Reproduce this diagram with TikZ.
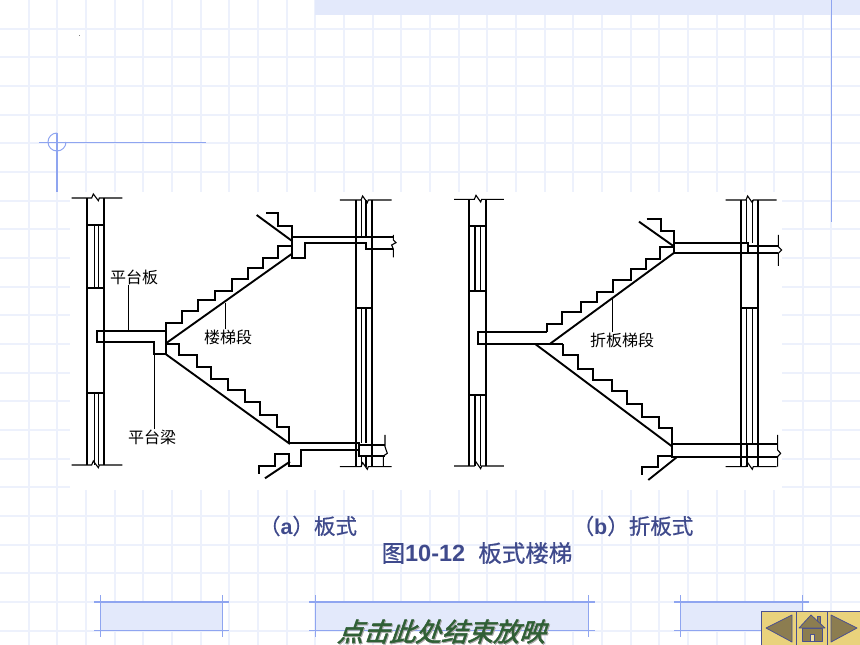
\documentclass[tikz,border=0pt]{standalone}
\usepackage{fontspec}
\setmainfont{Liberation Sans}
\newfontfamily\cjkfont{Noto Sans CJK SC}
\newfontfamily\cjkmedium[FakeBold=0.7]{Noto Sans CJK SC}
\newfontfamily\cjkslant[FakeSlant=0.35,FakeBold=2]{Noto Sans CJK SC}
\newfontfamily\latinbold[Ligatures=TeX]{Liberation Sans Bold}
\definecolor{gridblue}{HTML}{EDF1FC}
\definecolor{barblue}{HTML}{E3E9FB}
\definecolor{guideblue}{HTML}{8FA5F0}
\definecolor{captionblue}{HTML}{3F4A8C}
\definecolor{btngold}{HTML}{E9D27C}
\definecolor{btnolive}{HTML}{8C7D50}
\definecolor{btnedge}{HTML}{4A5090}
\definecolor{endgreen}{HTML}{2F5F35}
\tikzset{
	wall/.style={line width=1.9pt,line join=miter},
	inner/.style={line width=1.1pt},
	leader/.style={line width=1.1pt},
	partlabel/.style={font=\cjkfont\fontsize{16}{16}\selectfont,inner sep=0pt},
	caption/.style={font=\cjkmedium\fontsize{21.5}{22}\selectfont,text=captionblue,inner sep=0pt},
	btn/.style={fill=btngold,draw=btnedge,line width=1pt},
	btnsign/.style={fill=btnolive,draw=btnedge,line width=0.8pt,line join=round}
}
\begin{document}
\begin{tikzpicture}[x=1pt,y=-1pt]
	\useasboundingbox (0,0) rectangle (860,645);
	%Grid of the page
	\foreach \gx in {1,...,29} \draw[gridblue,line width=2pt] (28.667*\gx,0) -- (28.667*\gx,645);
	\foreach \gy in {1,...,22} \draw[gridblue,line width=2pt] (0,28.667*\gy) -- (860,28.667*\gy);
	\fill[barblue] (315,0) rectangle (860,14.5);
	\fill[white] (70,192) rectangle (782,490);
	\fill[gray] (78.5,34.5) rectangle (80,36);
	%Guide lines
	\draw[guideblue,line width=1pt] (39,142) -- (206,142);
	\draw[guideblue,line width=1pt] (57,133) arc (270:0:9);
	\draw[guideblue,line width=1.2pt] (57,133) -- (57,192);
	\draw[guideblue,line width=1pt] (831,0) -- (831,222);
	%Bars at the bottom
	\foreach \xa/\xb in {100/222,315/588,680/802}{
		\fill[barblue] (\xa,602) rectangle (\xb,630);
		\draw[guideblue,line width=2pt] (\xa-6,602) -- (\xb+7,602);
		\draw[guideblue,line width=1pt] (\xa-6,630) -- (\xb+7,630);
		\draw[guideblue,line width=1pt] (\xa,595) -- (\xa,637);
		\draw[guideblue,line width=1pt] (\xb,595) -- (\xb,637);
	}

	%Stair (a)
	\begin{scope}[shift={(60,180)},scale=0.3333]
		%Left wall
		\draw[wall] (80,54) -- (80,855);
		\draw[wall] (131,54) -- (131,855);
		\draw[inner] (35,54) -- (95,54) -- (100,42) -- (115,62) -- (118,54) -- (187,54);
		\draw[inner] (35,855) -- (95,855) -- (100,843) -- (115,863) -- (118,855) -- (187,855);
		\draw[wall] (80,135) -- (131,135);
		\draw[wall] (80,325) -- (131,325);
		\draw[wall] (80,638) -- (131,638);
		\foreach \wx in {104,115}{
			\draw[inner] (\wx,135) -- (\wx,325);
			\draw[inner] (\wx,638) -- (\wx,855);
		}
		%Right wall
		\draw[wall] (887,60) -- (887,860);
		\draw[wall] (937,60) -- (937,860);
		\draw[inner] (840,60) -- (903,60) -- (908,48) -- (922,68) -- (925,60) -- (995,60);
		\draw[inner] (840,860) -- (903,860) -- (908,848) -- (922,868) -- (925,860) -- (995,860);
		\draw[wall] (887,383) -- (937,383);
		\foreach \wx in {905,918}{
			\draw[inner] (\wx,60) -- (\wx,170);
			\draw[inner] (\wx,383) -- (\wx,790);
			\draw[inner] (\wx,828) -- (\wx,860);
		}
		%Landing and beam on the left
		\draw[wall] (131,454) -- (110,454) -- (110,486) -- (283,486) -- (283,523) -- (318,523) -- (318,454) -- cycle;
		%Upper flight
		\draw[wall] (318,454) -- (318,428) -- (365,428) -- (365,393) -- (415,393) -- (415,360) -- (465,360) -- (465,332) -- (515,332) -- (515,298) -- (565,298) -- (565,265) -- (610,265) -- (610,235) -- (655,235) -- (655,198) -- (695,198);
		\draw[wall] (318,490) -- (695,222);
		\draw[wall] (618,100) -- (655,100) -- (655,137) -- (695,137) -- (695,170);
		\draw[wall] (590,105) -- (695,182);
		%Upper landing
		\draw[wall] (1000,170) -- (695,170) -- (695,235) -- (735,235) -- (735,190) -- (917,190) -- (917,207) -- (1000,207);
		\draw[inner] (1000,165) -- (1000,180) -- (1008,188) -- (995,195) -- (1000,207) -- (1000,232);
		%Lower flight
		\draw[wall] (318,492) -- (358,492) -- (358,525) -- (412,525) -- (412,562) -- (452,562) -- (452,598) -- (505,598) -- (505,630) -- (555,630) -- (555,665) -- (600,665) -- (600,705) -- (650,705) -- (650,740) -- (688,740) -- (688,790);
		\draw[wall] (318,523) -- (690,792);
		%Lower landing
		\draw[wall] (688,788) -- (897,788) -- (897,810) -- (722,810) -- (722,858) -- (688,858) -- (688,822) -- (645,822) -- (645,858) -- (597,858) -- (597,882);
		\draw[wall] (615,895) -- (690,845);
		\draw[wall] (975,795) -- (897,795) -- (897,828) -- (975,828);
		\draw[inner] (975,765) -- (975,800) -- (982,820) -- (970,828) -- (970,860);
		\coordinate (banFoot) at (205,454);
		\coordinate (duanFoot) at (497,368);
		\coordinate (liangFoot) at (283,523);
	\end{scope}
	\node[partlabel] (banLabel) at (134,277) {平台板};
	\node[partlabel] (duanLabel) at (228,337) {楼梯段};
	\node[partlabel] (liangLabel) at (152,437) {平台梁};
	\draw[leader] (banLabel.south -| banFoot) -- (banFoot);
	\draw[leader] (duanLabel.north -| duanFoot) -- (duanFoot);
	\draw[leader] (liangLabel.north -| liangFoot) -- (liangFoot);

	%Stair (b)
	\begin{scope}[shift={(440,180)},scale=0.3333]
		%Left wall
		\draw[wall] (88,58) -- (88,858);
		\draw[wall] (138,58) -- (138,858);
		\draw[inner] (42,58) -- (103,58) -- (108,46) -- (122,66) -- (125,58) -- (192,58);
		\draw[inner] (42,858) -- (103,858) -- (108,846) -- (122,866) -- (125,858) -- (192,858);
		\draw[wall] (88,138) -- (138,138);
		\draw[wall] (88,332) -- (138,332);
		\draw[wall] (88,645) -- (138,645);
		\foreach \wx in {105,122}{
			\draw[inner] (\wx,138) -- (\wx,332);
			\draw[inner] (\wx,645) -- (\wx,858);
		}
		%Right wall
		\draw[wall] (903,60) -- (903,860);
		\draw[wall] (953,60) -- (953,860);
		\draw[inner] (857,60) -- (918,60) -- (923,48) -- (937,68) -- (940,60) -- (1010,60);
		\draw[inner] (857,860) -- (918,860) -- (923,848) -- (937,868) -- (940,860) -- (1010,860);
		\draw[wall] (903,383) -- (953,383);
		\foreach \wx in {920,937}{
			\draw[inner] (\wx,60) -- (\wx,190);
			\draw[inner] (\wx,383) -- (\wx,792);
		}
		\draw[wall] (922,830) -- (922,860);
		%Landing on the left
		\draw[wall] (138,456) -- (113,456) -- (113,493) -- (370,493);
		\draw[wall] (138,456) -- (322,456);
		%Upper flight
		\draw[wall] (322,456) -- (322,432) -- (367,432) -- (367,395) -- (422,395) -- (422,365) -- (470,365) -- (470,335) -- (520,335) -- (520,300) -- (572,300) -- (572,268) -- (618,268) -- (618,237) -- (660,237) -- (660,200) -- (703,200);
		\draw[wall] (328,493) -- (703,218);
		\draw[wall] (620,118) -- (662,118) -- (662,152) -- (703,152) -- (703,190);
		\draw[wall] (597,125) -- (703,200);
		%Upper landing
		\draw[wall] (703,190) rectangle (925,218);
		\draw[wall] (925,198) -- (1015,198);
		\draw[wall] (925,218) -- (1015,218);
		\draw[inner] (1015,165) -- (1015,200) -- (1025,210) -- (1015,220) -- (1015,258);
		%Lower flight
		\draw[wall] (370,493) -- (370,525) -- (415,525) -- (415,568) -- (460,568) -- (460,600) -- (515,600) -- (515,632) -- (560,632) -- (560,672) -- (607,672) -- (607,712) -- (658,712) -- (658,745) -- (697,745) -- (697,792);
		\draw[wall] (287,493) -- (697,800);
		%Lower landing
		\draw[wall] (697,792) rectangle (922,830);
		\draw[wall] (922,792) -- (1013,792);
		\draw[wall] (922,830) -- (1013,830);
		\draw[inner] (1013,765) -- (1013,810) -- (1022,820) -- (1013,830) -- (1013,860);
		\draw[wall] (697,828) -- (655,828) -- (655,860) -- (607,860) -- (607,885);
		\draw[wall] (625,900) -- (710,832);
		\coordinate (zheFoot) at (518,355);
	\end{scope}
	\node[partlabel] (zheLabel) at (622,340) {折板梯段};
	\draw[leader] (zheLabel.north -| zheFoot) -- (zheFoot);

	%Captions
	\node[caption] (capA) at (308,526) {（{\latinbold a}）板式};
	\node[caption] (capB) at (633,526) {（{\latinbold b}）折板式};
	\node[caption,font=\cjkmedium\fontsize{23.5}{24}\selectfont] (capMain) at (477,553) {图{\latinbold 10-12}\;\;板式楼梯};

	%End of the show
	\node[font=\cjkslant\fontsize{26}{26}\selectfont,text=gray!70,inner sep=0pt] (endShadow) at (442,632.5) {点击此处结束放映};
	\node[font=\cjkslant\fontsize{26}{26}\selectfont,text=endgreen,inner sep=0pt] (endText) at (441,631.5) {点击此处结束放映};

	%Buttons
	\draw[btn] (761,611) rectangle (796,646);
	\draw[btn] (796,611) rectangle (827,646);
	\draw[btn] (827,611) rectangle (861,646);
	\draw[btnsign] (766,628) -- (792,615) -- (792,642) -- cycle;
	\draw[btnsign] (831,615) -- (857,628) -- (831,642) -- cycle;
	\draw[btnsign] (817,616) rectangle (820,623);
	\draw[btnsign] (802,628) rectangle (822,641);
	\draw[btnsign] (799,628) -- (811,615) -- (825,628) -- cycle;
	\draw[btnedge,line width=0.8pt,fill=btngold!70] (810,634) rectangle (814,641);
\end{tikzpicture}
\end{document}
